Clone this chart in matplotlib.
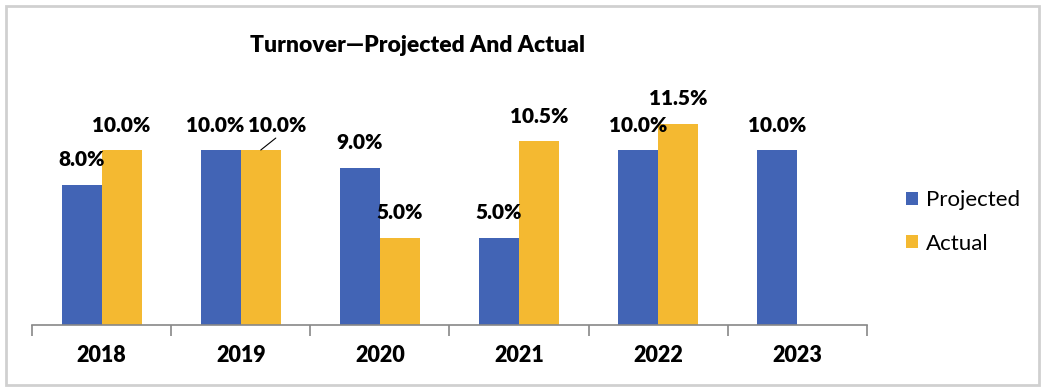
import matplotlib
matplotlib.use("Agg")
import matplotlib.pyplot as plt
from matplotlib.patches import Rectangle
import numpy as np

plt.rcParams['font.family'] = ['Lato', 'DejaVu Sans']

years = ["2018", "2019", "2020", "2021", "2022", "2023"]
projected = [8.0, 10.0, 9.0, 5.0, 10.0, 10.0]
actual = [10.0, 10.0, 5.0, 10.5, 11.5, None]
title = "Turnover\u2014Projected And Actual"

BLUE = "#4264B5"
GOLD = "#F4B931"

W, H = 1046, 392
fig = plt.figure(figsize=(W / 100, H / 100), dpi=100)
ax = fig.add_axes([32 / W, 67 / H, (867 - 32) / W, 245 / H])

x = np.arange(len(years))
bw = 0.288
ax.bar(x - bw / 2, projected, bw, color=BLUE, label="Projected")
act_x = [xi + bw / 2 for xi, v in zip(x, actual) if v is not None]
act_v = [v for v in actual if v is not None]
ax.bar(act_x, act_v, bw, color=GOLD, label="Actual")

ax.set_xlim(-0.5, len(years) - 0.5)
ax.set_ylim(0, 14)

for s in ["top", "right", "left"]:
    ax.spines[s].set_visible(False)
ax.spines["bottom"].set_color("#888888")
ax.spines["bottom"].set_linewidth(1.2)
ax.set_yticks([])
ax.set_xticks(np.arange(-0.5, len(years)))
ax.set_xticklabels([])
ax.tick_params(axis="x", length=8, color="#888888", width=1.2)
for xi, y in zip(x, years):
    ax.text(xi, -1.73, y, ha="center", va="center", fontsize=15.5, fontweight="heavy")

lab_kw = dict(ha="center", va="center", fontsize=15, fontweight="heavy")
for xi, v in zip(x, projected):
    dx = -4 if xi == 1 else 0
    ax.annotate(f"{v:.1f}%", (xi - bw / 2, v), xytext=(dx, 18), textcoords="offset points", **lab_kw)
for xi, v in zip(x, actual):
    if v is None:
        continue
    if xi == 1:
        ax.annotate(f"{v:.1f}%", (xi + bw / 2, v), xytext=(11.5, 18), textcoords="offset points", **lab_kw)
        ax.annotate("", (xi + bw / 2, v), xytext=(10.8, 8.6), textcoords="offset points",
                    arrowprops=dict(arrowstyle="-", color="black", lw=0.8, shrinkA=0, shrinkB=0))
    else:
        ax.annotate(f"{v:.1f}%", (xi + bw / 2, v), xytext=(0, 18), textcoords="offset points", **lab_kw)

fig.text(418 / W, 1 - 45 / H, title, ha="center", va="center", fontsize=16.5, fontweight="heavy")

leg = fig.legend(loc="center left", bbox_to_anchor=(886 / W, 1 - 222 / H), frameon=False,
                 fontsize=16, handlelength=0.55, handleheight=0.55, handletextpad=0.35, labelspacing=1.05)

fig.patches.append(Rectangle((6 / W, 1 - 385 / H), (1039 - 6) / W, (385 - 6) / H,
                             transform=fig.transFigure, fill=False, edgecolor="#d0d0d0", linewidth=2))

fig.savefig("out.png", dpi=100, facecolor="white")
